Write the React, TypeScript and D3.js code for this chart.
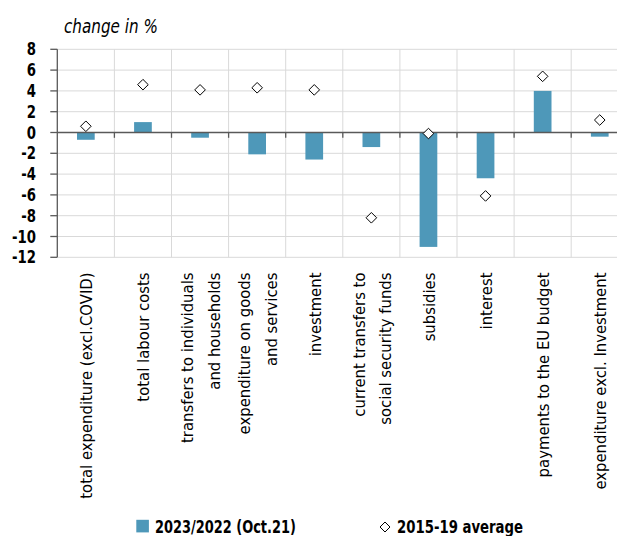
import React from "react";
import * as d3 from "d3";

const categories: string[][] = [
  ["total expenditure (excl.COVID)"],
  ["total labour costs"],
  ["transfers to individuals", "and households"],
  ["expenditure on goods", "and services"],
  ["investment"],
  ["current transfers to", "social security funds"],
  ["subsidies"],
  ["interest"],
  ["payments to the EU budget"],
  ["expenditure excl. Investment"],
];
const barValues = [-0.7, 1.0, -0.5, -2.1, -2.6, -1.4, -11.0, -4.4, 4.0, -0.4];
const avgValues = [0.6, 4.6, 4.1, 4.3, 4.1, -8.2, -0.1, -6.1, 5.4, 1.2];
const yTicks = [8, 6, 4, 2, 0, -2, -4, -6, -8, -10, -12];
const seriesNames = ["2023/2022 (Oct.21)", "2015-19 average"];
const titleText = "change in %";

const W = 617;
const H = 536;
const FONT = "'DejaVu Sans Condensed', 'DejaVu Sans', sans-serif";
const BAR = "#4e98b9";
const GRID = "#d9d9d9";
const AXIS = "#595959";

export default function App() {
  const keys = categories.map((c, i) => String(i));
  const x = d3.scaleBand<string>().domain(keys).range([57.3, 628.3]).padding(0);
  const y = d3.scaleLinear().domain([-12, 8]).range([257.3, 49.3]);
  const bw = x.bandwidth();
  const barW = bw * 0.31;
  const x0 = 57.3;
  const x1 = 628.3;
  const diamond = (cx: number, cy: number, r: number) =>
    `M${cx},${cy - r}L${cx + r},${cy}L${cx},${cy + r}L${cx - r},${cy}Z`;

  return (
    <svg
      width={W}
      height={H}
      style={{ position: "absolute", left: 0, top: 0, background: "#fff" }}
      fontFamily={FONT}
    >
      <rect x={0} y={0} width={W} height={H} fill="#fff" />
      {yTicks.map((t) => (
        <line key={"h" + t} x1={x0} x2={x1} y1={y(t)} y2={y(t)} stroke={GRID} strokeWidth={1} />
      ))}
      {keys.slice(1).map((k) => (
        <line key={"v" + k} x1={x(k)!} x2={x(k)!} y1={y(8)} y2={y(-12)} stroke={GRID} strokeWidth={1} />
      ))}
      {barValues.map((v, i) => {
        const cx = x(keys[i])! + bw / 2;
        return (
          <rect
            key={"b" + i}
            x={cx - barW / 2}
            width={barW}
            y={Math.min(y(v), y(0))}
            height={Math.abs(y(v) - y(0))}
            fill={BAR}
          />
        );
      })}
      <line x1={x0} x2={x1} y1={y(0)} y2={y(0)} stroke={AXIS} strokeWidth={1.3} />
      {keys.slice(1).map((k) => (
        <line key={"zt" + k} x1={x(k)!} x2={x(k)!} y1={y(0)} y2={y(0) + 5.3} stroke={AXIS} strokeWidth={1.3} />
      ))}
      <line x1={x0} x2={x0} y1={y(8)} y2={y(-12)} stroke={AXIS} strokeWidth={1.3} />
      {yTicks.map((t) => (
        <g key={"yt" + t}>
          <line x1={x0 - 7} x2={x0} y1={y(t)} y2={y(t)} stroke={AXIS} strokeWidth={1.3} />
          <g transform={`translate(36,${y(t)}) scale(0.82,1)`}>
            <text x={0} y={0} textAnchor="end" dominantBaseline="central" fontSize={18} fontWeight="bold" fill="#000">
              {t}
            </text>
          </g>
        </g>
      ))}
      {avgValues.map((v, i) => {
        const cx = x(keys[i])! + bw / 2;
        return <path key={"d" + i} d={diamond(cx, y(v), 5.3)} fill="#fff" stroke="#000" strokeWidth={1} />;
      })}
      {categories.map((lines, i) => {
        const cx = x(keys[i])! + bw / 2 + 1;
        const n = lines.length;
        return (
          <g key={"cl" + i} transform={`translate(${cx},272.5) rotate(-90)`}>
            {lines.map((ln, j) => (
              <text
                key={j}
                x={0}
                y={(j - (n - 1) / 2) * 26.5}
                textAnchor="end"
                dominantBaseline="central"
                fontSize={16.5}
                fill="#000"
              >
                {ln}
              </text>
            ))}
          </g>
        );
      })}
      <g transform="translate(64,33) scale(0.89,1)">
        <text x={0} y={0} fontSize={19} fontStyle="italic" fill="#000">
          {titleText}
        </text>
      </g>
      <rect x={136.3} y={519.8} width={12.6} height={12.6} fill={BAR} />
      <g transform="translate(155,532.5) scale(0.8,1)">
        <text x={0} y={0} fontSize={18} fontWeight="bold" fill="#000">
          {seriesNames[0]}
        </text>
      </g>
      <path d={diamond(385, 527, 5)} fill="#fff" stroke="#000" strokeWidth={1} />
      <g transform="translate(397,532.5) scale(0.82,1)">
        <text x={0} y={0} fontSize={18} fontWeight="bold" fill="#000">
          {seriesNames[1]}
        </text>
      </g>
    </svg>
  );
}
